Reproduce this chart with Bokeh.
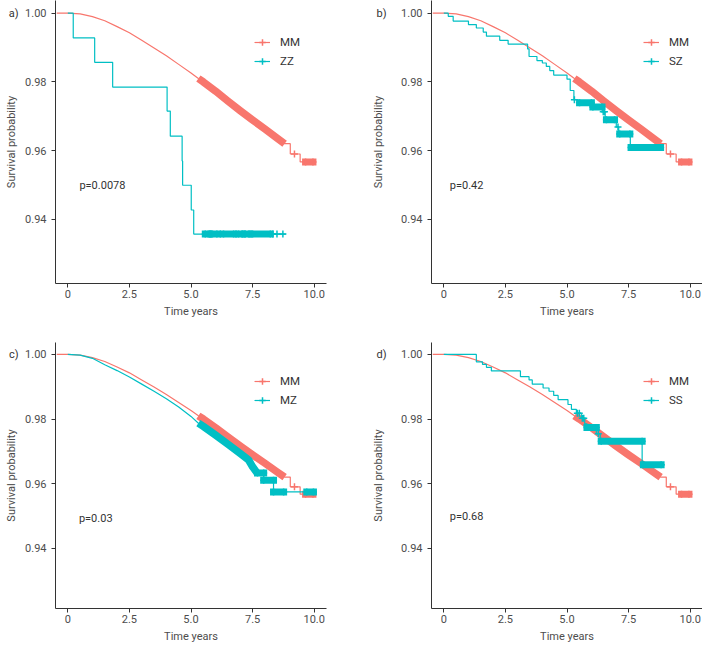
import numpy as np
from bokeh.plotting import figure
from bokeh.layouts import column, row
from bokeh.models import (Legend, LegendItem, Label, FixedTicker, LinearAxis,
                          NumeralTickFormatter, Range1d)
from bokeh.embed import file_html
from bokeh.resources import INLINE

FONT = "Roboto"
PINK = "#F8766D"
TEAL = "#00BFC4"
TXT = "#4d4d4d"

X_TICKS = [0, 2.5, 5, 7.5, 10]
Y_TICKS = [0.94, 0.96, 0.98, 1.00]

# ---- reference group MM (same in every panel) ----
MM_t = [-0.45, 0, 0.5, 1.0, 1.5, 2.0, 2.5, 3.0, 3.5, 4.0, 4.5, 5.0, 5.3, 5.5,
        6.0, 6.5, 7.0, 7.5, 8.0, 8.5, 8.8, 9.03, 9.03, 9.43, 9.43, 10.08]
MM_s = [1.0, 1.0, 0.9998, 0.9990, 0.9978, 0.9961, 0.9943, 0.9921, 0.9899, 0.9876,
        0.9851, 0.9826, 0.9810, 0.9800, 0.9773, 0.9744, 0.9716, 0.9689, 0.9663,
        0.9636, 0.9620, 0.9620, 0.9590, 0.9590, 0.9567, 0.9567]
MM_band = [5.3, 8.8]
MM_cross_t = [9.2]
MM_cross_s = [0.9590]
MM_dense_t0 = [9.65]
MM_dense_t1 = [9.95]
MM_dense_s = [0.9567]

# ---- ZZ ----
ZZ_t = [0, 0.22, 1.09, 1.82, 4.03, 4.16, 4.64, 4.66, 5.01, 5.11, 8.85]
ZZ_s = [1.0, 0.9928, 0.9857, 0.9785, 0.9715, 0.9642, 0.9570, 0.9499, 0.9427,
        0.9357, 0.9357]
ZZ_cross_t = [6.19, 8.32, 8.49, 8.73]
ZZ_cross_s = [0.9357, 0.9357, 0.9357, 0.9357]
ZZ_dense_t0 = [5.58, 5.81, 6.32, 6.93, 7.20, 7.50]
ZZ_dense_t1 = [5.76, 6.05, 6.73, 7.07, 7.34, 8.22]
ZZ_dense_s = [0.9357, 0.9357, 0.9357, 0.9357, 0.9357, 0.9357]

# ---- SZ ----
SZ_t = [0, 0.18, 0.38, 1.0, 1.32, 1.6, 1.73, 2.27, 2.61, 3.4, 3.46, 3.78, 4.0,
        4.16, 4.3, 4.46, 5.0, 5.13, 5.28, 5.45, 6.05, 6.45, 6.55, 7.0, 7.1,
        7.57, 8.82]
SZ_s = [1.0, 0.9991, 0.9977, 0.9967, 0.9957, 0.9945, 0.9933, 0.9921, 0.9910,
        0.9896, 0.9874, 0.9862, 0.9855, 0.9845, 0.9833, 0.9820, 0.9808, 0.9775,
        0.9748, 0.9739, 0.9727, 0.9713, 0.9690, 0.9669, 0.9648, 0.9609, 0.9609]
SZ_cross_t = [5.3, 6.47, 6.52, 7.07]
SZ_cross_s = [0.9748, 0.9713, 0.9713, 0.9669]
SZ_dense_t0 = [5.51, 6.05, 6.60, 7.14, 7.60]
SZ_dense_t1 = [5.99, 6.42, 6.93, 7.55, 8.80]
SZ_dense_s = [0.9739, 0.9727, 0.9690, 0.9648, 0.9609]

# ---- MZ ----
MZ_t = [0, 0.5, 1.0, 1.5, 2.0, 2.5, 3.0, 3.5, 4.0, 4.5, 5.0, 5.3, 5.5, 6.0,
        6.5, 7.0, 7.34, 7.5, 7.68, 7.95, 7.95, 8.35, 8.35, 10.05]
MZ_s = [1.0, 0.9998, 0.9988, 0.9968, 0.9950, 0.9930, 0.9908, 0.9886, 0.9863,
        0.9837, 0.9808, 0.9787, 0.9777, 0.9750, 0.9722, 0.9693, 0.9673, 0.9652,
        0.9633, 0.9633, 0.9610, 0.9610, 0.9574, 0.9574]
MZ_band = [5.3, 7.68]
MZ_cross_t = []
MZ_cross_s = []
MZ_dense_t0 = [7.70, 7.95, 8.35, 9.70]
MZ_dense_t1 = [7.95, 8.35, 8.76, 9.97]
MZ_dense_s = [0.9633, 0.9610, 0.9574, 0.9574]

# ---- SS ----
SS_t = [0, 1.32, 1.57, 1.73, 1.93, 3.11, 3.46, 3.59, 4.03, 4.27, 4.46, 4.64,
        5.04, 5.18, 5.38, 5.58, 5.72, 5.81, 6.19, 6.35, 8.05, 8.96]
SS_s = [1.0, 0.9977, 0.9969, 0.9960, 0.9949, 0.9931, 0.9921, 0.9908, 0.9896,
        0.9886, 0.9873, 0.9860, 0.9845, 0.9830, 0.9818, 0.9802, 0.9785, 0.9774,
        0.9754, 0.9731, 0.9658, 0.9658]
SS_cross_t = [5.42, 5.50, 5.62, 5.68, 6.27]
SS_cross_s = [0.9818, 0.9818, 0.9802, 0.9802, 0.9754]
SS_dense_t0 = [5.81, 6.39, 8.10]
SS_dense_t1 = [6.19, 8.05, 8.82]
SS_dense_s = [0.9774, 0.9731, 0.9658]

MM = dict(name="MM", kind="line", t=MM_t, s=MM_s, band=MM_band,
          ct=MM_cross_t, cs=MM_cross_s, d0=MM_dense_t0, d1=MM_dense_t1, ds=MM_dense_s)
GROUPS = {
    "ZZ": dict(name="ZZ", kind="step", t=ZZ_t, s=ZZ_s, band=None, ct=ZZ_cross_t, cs=ZZ_cross_s,
               d0=ZZ_dense_t0, d1=ZZ_dense_t1, ds=ZZ_dense_s),
    "SZ": dict(name="SZ", kind="step", t=SZ_t, s=SZ_s, band=None, ct=SZ_cross_t, cs=SZ_cross_s,
               d0=SZ_dense_t0, d1=SZ_dense_t1, ds=SZ_dense_s),
    "MZ": dict(name="MZ", kind="line", t=MZ_t, s=MZ_s, band=MZ_band, ct=MZ_cross_t, cs=MZ_cross_s,
               d0=MZ_dense_t0, d1=MZ_dense_t1, ds=MZ_dense_s),
    "SS": dict(name="SS", kind="step", t=SS_t, s=SS_s, band=None, ct=SS_cross_t, cs=SS_cross_s,
               d0=SS_dense_t0, d1=SS_dense_t1, ds=SS_dense_s),
}

PANELS = [
    dict(letter="a)", grp="ZZ", p="p=0.0078", px=0.47, py=0.9497),
    dict(letter="b)", grp="SZ", p="p=0.42", px=0.24, py=0.9497),
    dict(letter="c)", grp="MZ", p="p=0.03", px=0.45, py=0.9493),
    dict(letter="d)", grp="SS", p="p=0.68", px=0.24, py=0.9497),
]


def draw_group(p, g, color):
    t = np.array(g["t"], dtype=float)
    s = np.array(g["s"], dtype=float)
    if g["kind"] == "step":
        r_line = p.step(t, s, mode="after", line_color=color, line_width=1.2)
    else:
        r_line = p.line(t, s, line_color=color, line_width=1.2)
    if g["band"] is not None:
        m = (t >= g["band"][0]) & (t <= g["band"][1])
        p.line(t[m], s[m], line_color=color, line_width=7.5, line_cap="butt",
               line_join="round")
    if g["d0"]:
        p.segment(x0=g["d0"], y0=g["ds"], x1=g["d1"], y1=g["ds"],
                  line_color=color, line_width=7, line_cap="square")
    ct = list(g["ct"]) + list(g["d0"]) + list(g["d1"])
    cs = list(g["cs"]) + list(g["ds"]) + list(g["ds"])
    r_cross = p.scatter(ct, cs, marker="cross", size=7, line_color=color,
                        line_width=1.5)
    return r_line, r_cross


def style_axis(ax):
    ax.axis_line_color = "#333333"
    ax.axis_line_width = 1
    ax.major_tick_line_color = "#333333"
    ax.major_tick_in = 0
    ax.major_tick_out = 4
    ax.minor_tick_line_color = None
    ax.major_label_text_font = FONT
    ax.major_label_text_font_size = "11px"
    ax.major_label_text_color = TXT
    ax.axis_label_text_font = FONT
    ax.axis_label_text_font_size = "11px"
    ax.axis_label_text_font_style = "normal"
    ax.axis_label_text_color = TXT


def make_panel(i, cfg):
    left = i % 2 == 0
    top = i < 2
    width = 350 if left else 352
    height = 325 if top else 320
    p = figure(width=width, height=height,
               x_range=Range1d(-0.5, 10.5), y_range=Range1d(0.9213, 1.0037),
               output_backend="svg", toolbar_location=None,
               min_border_left=55 if left else 81,
               min_border_right=24 if left else 0,
               min_border_top=0 if top else 17,
               min_border_bottom=42 if top else 34,
               background_fill_color="white", border_fill_color="white")
    p.outline_line_color = None
    p.xgrid.visible = False
    p.ygrid.visible = False

    xax = p.xaxis[0]
    yax = p.yaxis[0]
    style_axis(xax)
    style_axis(yax)
    xax.ticker = FixedTicker(ticks=X_TICKS)
    xax.formatter = NumeralTickFormatter(format="0.0")
    xax.major_label_overrides = {0: "0"}
    xax.axis_label = "Time years"
    xax.major_label_standoff = 2
    xax.axis_label_standoff = 4
    yax.ticker = FixedTicker(ticks=Y_TICKS)
    yax.formatter = NumeralTickFormatter(format="0.00")
    yax.major_label_standoff = 5

    # outer left axis: carries the panel letter (at the 1.00 level) and the title
    outer = LinearAxis(ticker=FixedTicker(ticks=[1.0]),
                       major_label_overrides={1.0: cfg["letter"]},
                       axis_label="Survival probability")
    style_axis(outer)
    outer.axis_line_color = None
    outer.major_tick_line_color = None
    outer.major_tick_out = 0
    outer.major_label_text_color = "#333333"
    outer.major_label_standoff = 4 if left else 12
    outer.axis_label_standoff = -12
    p.add_layout(outer, "left")

    g = GROUPS[cfg["grp"]]
    mm_line, mm_cross = draw_group(p, MM, PINK)
    g_line, g_cross = draw_group(p, g, TEAL)

    legend = Legend(items=[LegendItem(label="MM", renderers=[mm_line, mm_cross]),
                           LegendItem(label=g["name"], renderers=[g_line, g_cross])],
                    location=(199 if left else 212, 214 if top else 200),
                    orientation="vertical", padding=0, margin=0, spacing=3,
                    glyph_width=16, glyph_height=16, label_height=16,
                    label_standoff=10, border_line_color=None,
                    background_fill_alpha=0,
                    label_text_font=FONT, label_text_font_size="11.5px",
                    label_text_color="#333333")
    p.add_layout(legend, "center")

    p.add_layout(Label(x=cfg["px"], y=cfg["py"], text=cfg["p"],
                       text_font=FONT, text_font_size="11px", text_color="#333333",
                       text_baseline="middle", text_align="left"))
    return p


figs = [make_panel(i, c) for i, c in enumerate(PANELS)]
layout = column(row(figs[0], figs[1]), row(figs[2], figs[3]))

open("out.html", "w").write(file_html(layout, INLINE))
